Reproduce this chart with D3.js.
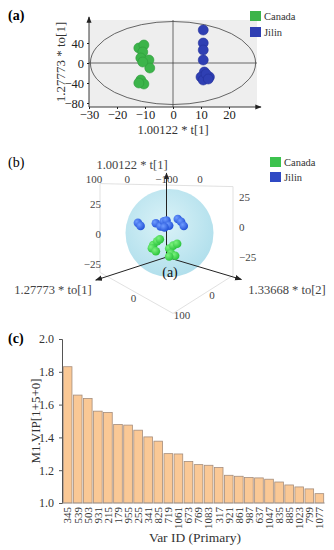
<!DOCTYPE html>
<html>
<head>
<meta charset="utf-8">
<script src="https://cdn.jsdelivr.net/npm/d3@7"></script>
<style>
  body { margin: 0; background: #fff; }
  svg { display: block; }
  svg text { font-family: "Liberation Serif", "Times New Roman", "DejaVu Serif", serif; }
</style>
</head>
<body>
<svg id="chart" width="334" height="550"></svg>
<script>
// ---- data ----
// (a) OPLS-DA scores: t[1] and to[1]
const canadaT  = [-12.2, -10.4, -10.8, -11.5, -8.6, -8.3, -10.8, -11.5, -10.4, -12.2];
const canadaTo = [30, 36, 22, 10, 6, -10, 2, -34, -42, -40];
const jilinT   = [10.8, 10.8, 10.8, 10.8, 11.2, 10.0, 13.0, 10.8, 11.8, 12.6];
const jilinTo  = [66, 40, 26, 6, -18, -28, -28, -34, -22, -32];

// (b) 3D scores: to[1], to[2], t[1]
const canadaTo1 = [20, 14, 10, 22, 16, -4, -10, -16, -7, -13, -4];
const canadaTo2 = [-20, -14, -10, -22, -16, 4, 10, 16, 7, 13, 4];
const canadaT1  = [-8.3, -5, -3.3, -10.8, -13.3, -10.8, -8.3, -6.7, -15, -16.7, -17.5];
const jilinTo1  = [43, 39, 16, 9, 4, 0, -4, 3, -17, -22, -26];
const jilinTo2  = [-43, -39, -16, -9, -4, 0, 4, -3, 17, 22, 26];
const jilinT1   = [10, 7.5, 10, 7.5, 11.7, 12.5, 8.3, 6.7, 14, 11.7, 8.3];

// (c) VIP values
const varIds = ["345","539","503","931","215","179","955","255","341","825","719","1061","673",
                "769","1083","317","921","861","987","637","1047","835","885","1023","799","1077"];
const vipValues = [1.831, 1.658, 1.637, 1.560, 1.552, 1.479, 1.475, 1.444, 1.403, 1.377, 1.301, 1.299, 1.253,
                   1.234, 1.230, 1.216, 1.169, 1.163, 1.155, 1.153, 1.145, 1.128, 1.110, 1.098, 1.086, 1.057];
const vipTicks = [1.0, 1.2, 1.4, 1.6, 1.8, 2.0];

const groups = ["Canada", "Jilin"];
const green = "#3cb44a", blue = "#2f3fb3";

const svg = d3.select("#chart");
const defs = svg.append("defs");

// arrow head
defs.append("marker").attr("id", "arr").attr("viewBox", "0 0 10 10")
  .attr("refX", 9).attr("refY", 5).attr("markerWidth", 7).attr("markerHeight", 7)
  .attr("orient", "auto")
  .append("path").attr("d", "M0,1 L10,5 L0,9 z").attr("fill", "#222");

// ================= (a) =================
const xA = d3.scaleLinear().domain([-30, 30]).range([89, 257]);
const yA = d3.scaleLinear().domain([-88, 82]).range([107, 22]);
const gA = svg.append("g");

gA.append("rect").attr("x", xA(-30)).attr("y", 20)
  .attr("width", xA(30) - xA(-30)).attr("height", 107 - 20).attr("fill", "#eeeeee");

// cross lines
gA.append("line").attr("x1", xA(0)).attr("x2", xA(0)).attr("y1", 20).attr("y2", 107)
  .attr("stroke", "#444").attr("stroke-width", 0.8);
gA.append("line").attr("x1", xA(-30)).attr("x2", xA(30)).attr("y1", yA(0)).attr("y2", yA(0))
  .attr("stroke", "#444").attr("stroke-width", 0.8);

// Hotelling ellipse
gA.append("ellipse").attr("cx", xA(0)).attr("cy", yA(0))
  .attr("rx", xA(29.5) - xA(0)).attr("ry", yA(0) - yA(83))
  .attr("fill", "none").attr("stroke", "#555").attr("stroke-width", 0.9);

// axes
const axA_x = gA.append("g").attr("transform", "translate(0,107)")
  .call(d3.axisBottom(xA).tickValues([-30, -20, -10, 0, 10, 20]).tickSize(2).tickPadding(1));
const axA_y = gA.append("g").attr("transform", `translate(${xA(-30)},0)`)
  .call(d3.axisLeft(yA).tickValues([40, 0, -40, -80]).tickSize(2).tickPadding(3));
[axA_x, axA_y].forEach(ax => {
  ax.attr("font-family", null).attr("font-size", null);
  ax.select(".domain").remove();
  ax.selectAll("text").attr("font-size", 12.5).attr("fill", "#222");
  ax.selectAll("line").attr("stroke", "#222");
});
gA.append("line").attr("x1", xA(-30)).attr("x2", 261).attr("y1", 107).attr("y2", 107)
  .attr("stroke", "#222").attr("stroke-width", 0.9).attr("marker-end", "url(#arr)");
gA.append("line").attr("x1", xA(-30)).attr("x2", xA(-30)).attr("y1", 107).attr("y2", 17)
  .attr("stroke", "#222").attr("stroke-width", 0.9).attr("marker-end", "url(#arr)");

// points
gA.selectAll(".ca").data(canadaT).join("circle")
  .attr("cx", d => xA(d)).attr("cy", (d, i) => yA(canadaTo[i])).attr("r", 5)
  .attr("fill", green).attr("stroke", "#2e9a3b").attr("stroke-width", 0.6);
gA.selectAll(".ji").data(jilinT).join("circle")
  .attr("cx", d => xA(d)).attr("cy", (d, i) => yA(jilinTo[i])).attr("r", 5)
  .attr("fill", blue).attr("stroke", "#24319a").attr("stroke-width", 0.6);

gA.append("text").attr("x", xA(0)).attr("y", 134).attr("text-anchor", "middle")
  .attr("font-size", 12.5).attr("fill", "#333").text("1.00122 * t[1]");
gA.append("text").attr("transform", "translate(65,62) rotate(-90)").attr("text-anchor", "middle")
  .attr("font-size", 13).attr("fill", "#333").text("1.27773 * to[1]");
gA.append("text").attr("x", 8).attr("y", 20).attr("font-size", 14).attr("font-weight", "bold")
  .text("(a)");

// legend (a)
const legA = gA.selectAll(".lega").data(groups).join("g")
  .attr("transform", (d, i) => `translate(250,${11 + i * 16})`);
legA.append("rect").attr("width", 11).attr("height", 10).attr("fill", (d, i) => i ? blue : green);
legA.append("text").attr("x", 14).attr("y", 9).attr("font-size", 10.5).attr("fill", "#333").text(d => d);

// ================= (b) =================
const gB = svg.append("g");
// simple oblique projection of (to1, to2, t1)
const pTo1x = d3.scaleLinear().domain([0, 100]).range([0, -30]);
const pTo1y = d3.scaleLinear().domain([0, 100]).range([0, 19]);
const pTo2x = d3.scaleLinear().domain([0, 100]).range([0, 36.5]);
const pTo2y = d3.scaleLinear().domain([0, 100]).range([0, 20.5]);
const pT1y  = d3.scaleLinear().domain([0, 100]).range([0, -120]);
const proj = (a, b, c) => [166.5 + pTo1x(a) + pTo2x(b), 235.5 + pTo1y(a) + pTo2y(b) + pT1y(c)];

const floorT = -32, topT = 42;
const boxStroke = "#d9d9d9";
const edge = (p, q) => gB.append("line")
  .attr("x1", p[0]).attr("y1", p[1]).attr("x2", q[0]).attr("y2", q[1])
  .attr("stroke", boxStroke).attr("stroke-width", 0.8);
edge(proj(100, -100, floorT), proj(100, -100, topT));
edge(proj(-100, 100, floorT), proj(-100, 100, topT));
edge(proj(100, -100, floorT), proj(100, 100, floorT));
edge(proj(-100, 100, floorT), proj(100, 100, floorT));
edge(proj(100, -100, topT), proj(-100, 100, topT));

// sphere
const sg = defs.append("radialGradient").attr("id", "sph").attr("cx", "45%").attr("cy", "40%").attr("r", "60%");
sg.append("stop").attr("offset", "0%").attr("stop-color", "#d6f1f7");
sg.append("stop").attr("offset", "100%").attr("stop-color", "#a9dcea");
const sc = proj(0, 0, 2);
gB.append("circle").attr("cx", sc[0] + 3).attr("cy", sc[1]).attr("r", 44)
  .attr("fill", "url(#sph)").attr("opacity", 0.9);

// axis arrows
const o3 = proj(0, 0, -18);
[[proj(0, 0, 52)], [proj(175, -50, -18)], [proj(-55, 160, -18)]].forEach(([e]) => {
  gB.append("line").attr("x1", o3[0]).attr("y1", o3[1]).attr("x2", e[0]).attr("y2", e[1])
    .attr("stroke", "#222").attr("stroke-width", 1).attr("marker-end", "url(#arr)");
});

// balls
[["gG", "#7cf27f", "#27c23a"], ["gJ", "#6f9cff", "#1f4fd6"]].forEach(([id, c0, c1]) => {
  const g = defs.append("radialGradient").attr("id", id).attr("cx", "35%").attr("cy", "35%").attr("r", "70%");
  g.append("stop").attr("offset", "0%").attr("stop-color", c0);
  g.append("stop").attr("offset", "100%").attr("stop-color", c1);
});
gB.selectAll(".bj").data(jilinT1).join("circle")
  .attr("cx", (d, i) => proj(jilinTo1[i], jilinTo2[i], d)[0])
  .attr("cy", (d, i) => proj(jilinTo1[i], jilinTo2[i], d)[1])
  .attr("r", 4.3).attr("fill", "url(#gJ)");
gB.selectAll(".bc").data(canadaT1).join("circle")
  .attr("cx", (d, i) => proj(canadaTo1[i], canadaTo2[i], d)[0])
  .attr("cy", (d, i) => proj(canadaTo1[i], canadaTo2[i], d)[1])
  .attr("r", 4.3).attr("fill", "url(#gG)");

// tick labels of the box
const tlab = (p, txt, anchor, dx, dy) => gB.append("text")
  .attr("x", p[0] + dx).attr("y", p[1] + dy).attr("text-anchor", anchor)
  .attr("font-size", 11).attr("fill", "#444").text(txt);
const fmt = v => d3.format("")(v).replace("-", "−");
[25, 0, -25].forEach(v => tlab(proj(100, -100, v), fmt(v), "end", 1, 4));
[25, 0, -25].forEach(v => tlab(proj(-100, 100, v), fmt(v), "start", 6, -6));
const topLabels = ["100", "0", "−100", "0"];
const topX = d3.scalePoint().domain(d3.range(topLabels.length)).range([94, 200]);
const topNudge = [0, -2, 2, 0];
topLabels.forEach((t, i) => tlab([topX(i) + topNudge[i], 178], t, "middle", 0, 5));
tlab(proj(100, 0, floorT), "0", "middle", -3, 9);
tlab(proj(0, 100, floorT), "0", "middle", 9, 5);
tlab(proj(100, 100, floorT), "100", "middle", 9, 6);

gB.append("text").attr("x", 132).attr("y", 169).attr("text-anchor", "middle")
  .attr("font-size", 12.5).attr("fill", "#444").text("1.00122 * t[1]");
gB.append("text").attr("x", 53).attr("y", 294).attr("text-anchor", "middle")
  .attr("font-size", 12.5).attr("fill", "#444").text("1.27773 * to[1]");
gB.append("text").attr("x", 287).attr("y", 294).attr("text-anchor", "middle")
  .attr("font-size", 12.5).attr("fill", "#444").text("1.33668 * to[2]");
gB.append("text").attr("x", 170).attr("y", 277).attr("text-anchor", "middle")
  .attr("font-size", 14).attr("fill", "#111").text("(a)");
gB.append("text").attr("x", 8).attr("y", 167).attr("font-size", 14).text("(b)");

const legB = gB.selectAll(".legb").data(groups).join("g")
  .attr("transform", (d, i) => `translate(270,${157 + i * 15})`);
legB.append("rect").attr("width", 11).attr("height", 10).attr("fill", (d, i) => i ? "#2f49c4" : "#3cc24e");
legB.append("text").attr("x", 14).attr("y", 9).attr("font-size", 10.5).attr("fill", "#333").text(d => d);

// ================= (c) =================
const gC = svg.append("g");
const xC = d3.scaleBand().domain(varIds).range([63, 324]).paddingInner(0.14).paddingOuter(0.03);
const yC = d3.scaleLinear().domain([1, 2]).range([503, 339]);

gC.selectAll("rect").data(vipValues).join("rect")
  .attr("x", (d, i) => xC(varIds[i])).attr("y", d => yC(d))
  .attr("width", xC.bandwidth()).attr("height", d => yC(1) - yC(d))
  .attr("fill", "#fac895").attr("stroke", "#a58d7c").attr("stroke-width", 0.8);

const axC = gC.append("g").attr("transform", "translate(62,0)")
  .call(d3.axisLeft(yC).tickValues(vipTicks).tickFormat(d3.format(".1f")).tickSize(3).tickPadding(5));
axC.attr("font-family", null).attr("font-size", null);
axC.select(".domain").attr("stroke", "#555");
axC.selectAll("line").attr("stroke", "#555");
axC.selectAll("text").attr("font-size", 12).attr("fill", "#333");
gC.append("line").attr("x1", 62).attr("x2", 325).attr("y1", yC(1)).attr("y2", yC(1))
  .attr("stroke", "#999").attr("stroke-width", 0.6);

gC.selectAll(".xl").data(varIds).join("text")
  .attr("transform", d => `translate(${xC(d) + xC.bandwidth() / 2},507) rotate(-90)`)
  .attr("text-anchor", "end").attr("dy", "0.35em")
  .attr("font-size", 11).attr("fill", "#333").text(d => d);

gC.append("text").attr("x", 195).attr("y", 542).attr("text-anchor", "middle")
  .attr("font-size", 13.5).attr("fill", "#333").text("Var ID (Primary)");
gC.append("text").attr("transform", "translate(40,421) rotate(-90)").attr("text-anchor", "middle")
  .attr("font-size", 13).attr("fill", "#333").text("M1.VIP[1+5+0]");
gC.append("text").attr("x", 8).attr("y", 343).attr("font-size", 14).attr("font-weight", "bold").text("(c)");
</script>
</body>
</html>
